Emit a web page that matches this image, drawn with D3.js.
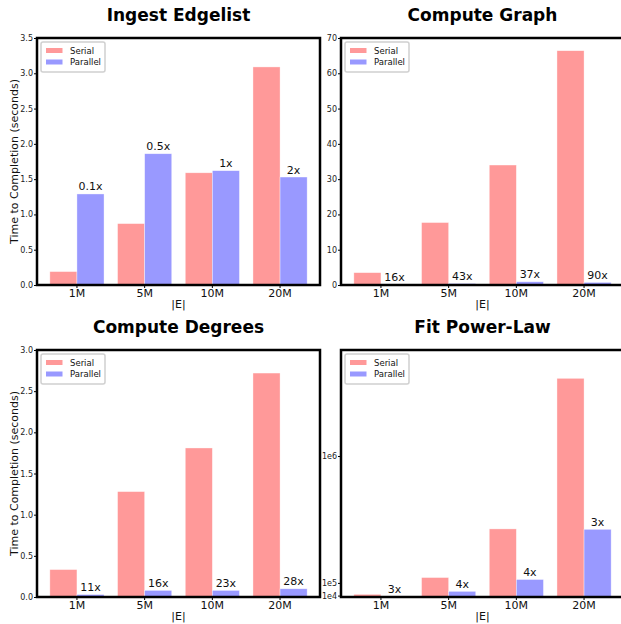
<!DOCTYPE html>
<html>
<head>
<meta charset="utf-8">
<script src="https://cdn.jsdelivr.net/npm/d3@7"></script>
<style>
  html, body { margin: 0; padding: 0; background: #fff; }
  svg { display: block; font-family: "DejaVu Sans", sans-serif; }
</style>
</head>
<body>
<svg id="chart" width="621" height="624"></svg>
<script>
// ---- data ----
const categories = ["1M", "5M", "10M", "20M"];
const seriesNames = ["Serial", "Parallel"];

const ingestSerial   = [0.19, 0.87, 1.59, 3.09];
const ingestParallel = [1.29, 1.86, 1.62, 1.53];
const ingestSpeedup  = ["0.1x", "0.5x", "1x", "2x"];
const ingestTicks    = [0, 0.5, 1.0, 1.5, 2.0, 2.5, 3.0, 3.5];

const graphSerial   = [3.5, 17.7, 34.0, 66.4];
const graphParallel = [0.22, 0.41, 0.92, 0.74];
const graphSpeedup  = ["16x", "43x", "37x", "90x"];
const graphTicks    = [0, 10, 20, 30, 40, 50, 60, 70];

const degreeSerial   = [0.333, 1.28, 1.81, 2.72];
const degreeParallel = [0.03, 0.08, 0.08, 0.1];
const degreeSpeedup  = ["11x", "16x", "23x", "28x"];
const degreeTicks    = [0, 0.5, 1.0, 1.5, 2.0, 2.5, 3.0];

const powerSerial   = [19000, 138000, 483000, 1551000];
const powerParallel = [6300, 40000, 124000, 480000];
const powerSpeedup  = ["3x", "4x", "4x", "3x"];
const powerTicks    = [1e4, 1e5, 1e6];
const powerTickLabels = ["1e4", "1e5", "1e6"];

const colors = { Serial: "#ff9999", Parallel: "#9999ff" };

const panels = [
  { title: "Ingest Edgelist", serial: ingestSerial, parallel: ingestParallel, speedup: ingestSpeedup,
    ticks: ingestTicks, fmt: d3.format(".1f"), yMax: 3.5, x0: 37, y0: 38, ylabel: true },
  { title: "Compute Graph", serial: graphSerial, parallel: graphParallel, speedup: graphSpeedup,
    ticks: graphTicks, fmt: d3.format("d"), yMax: 70, x0: 341, y0: 38, ylabel: false },
  { title: "Compute Degrees", serial: degreeSerial, parallel: degreeParallel, speedup: degreeSpeedup,
    ticks: degreeTicks, fmt: d3.format(".1f"), yMax: 3.0, x0: 37, y0: 350, ylabel: true },
  { title: "Fit Power-Law", serial: powerSerial, parallel: powerParallel, speedup: powerSpeedup,
    ticks: powerTicks, fmt: (d, i) => powerTickLabels[i], yMax: 1.752e6, x0: 341, y0: 350, ylabel: false }
];

const W = 283, H = 247;
const svg = d3.select("#chart");

panels.forEach(p => {
  const g = svg.append("g").attr("transform", `translate(${p.x0},${p.y0})`);

  const x = d3.scaleBand().domain(categories).range([0, W])
    .paddingInner(0.2).paddingOuter(0.19);
  const xs = d3.scaleBand().domain(seriesNames).range([0, x.bandwidth()]);
  const y = d3.scaleLinear().domain([0, p.yMax]).range([H, 0]);

  const rows = categories.map((c, i) => ({ c, Serial: p.serial[i], Parallel: p.parallel[i], label: p.speedup[i] }));

  // bars
  seriesNames.forEach(s => {
    g.append("g").selectAll("rect").data(rows).join("rect")
      .attr("x", d => x(d.c) + xs(s))
      .attr("y", d => y(d[s]))
      .attr("width", xs.bandwidth())
      .attr("height", d => H - y(d[s]))
      .attr("fill", colors[s])
      .attr("stroke", "rgba(255,255,255,0.6)")
      .attr("stroke-width", 0.6);
  });

  // speedup labels
  g.append("g").selectAll("text").data(rows).join("text")
    .attr("x", d => x(d.c) + xs("Parallel") + xs.bandwidth() / 2)
    .attr("y", d => y(d.Parallel) - 3.5)
    .attr("text-anchor", "middle")
    .attr("font-size", "11px")
    .attr("fill", "#111")
    .text(d => d.label);

  // y axis
  const ya = g.append("g").call(d3.axisLeft(y).tickValues(p.ticks).tickFormat(p.fmt).tickSize(3).tickPadding(1));
  ya.select(".domain").remove();
  ya.selectAll("line").attr("stroke", "#000").attr("stroke-width", 1);
  ya.selectAll("text").attr("font-size", "8px").attr("fill", "#222").attr("font-family", "DejaVu Sans");

  // x axis
  const xa = g.append("g").attr("transform", `translate(0,${H})`)
    .call(d3.axisBottom(x).tickSize(3).tickPadding(1));
  xa.select(".domain").remove();
  xa.selectAll("line").attr("stroke", "#000").attr("stroke-width", 1);
  xa.selectAll("text").attr("font-size", "11px").attr("fill", "#111").attr("font-family", "DejaVu Sans");

  // frame
  g.append("rect").attr("x", 0).attr("y", 0).attr("width", W).attr("height", H)
    .attr("fill", "none").attr("stroke", "#000").attr("stroke-width", 2.5);

  // x label
  g.append("text").attr("x", W / 2).attr("y", H + 23)
    .attr("text-anchor", "middle").attr("font-size", "11px").attr("fill", "#111")
    .text("|E|");

  // title
  g.append("text").attr("x", W / 2).attr("y", -17)
    .attr("text-anchor", "middle").attr("font-size", "17px").attr("font-weight", "bold").attr("fill", "#000")
    .text(p.title);

  // y label
  if (p.ylabel) {
    g.append("text")
      .attr("transform", `translate(${-19},${H / 2}) rotate(-90)`)
      .attr("text-anchor", "middle").attr("font-size", "11px").attr("fill", "#111")
      .text("Time to Completion (seconds)");
  }

  // legend
  const lg = g.append("g").attr("transform", "translate(4,4)");
  lg.append("rect").attr("width", 64).attr("height", 30).attr("rx", 2)
    .attr("fill", "#fff").attr("stroke", "#d0d0d0").attr("stroke-width", 1.5);
  seriesNames.forEach((s, i) => {
    const yy = 8.5 + i * 11.5;
    lg.append("rect").attr("x", 5).attr("y", yy - 2.5).attr("width", 16.5).attr("height", 5)
      .attr("fill", colors[s]);
    lg.append("text").attr("x", 29).attr("y", yy + 3).attr("font-size", "8.5px").attr("fill", "#111")
      .text(s);
  });
});
</script>
</body>
</html>
